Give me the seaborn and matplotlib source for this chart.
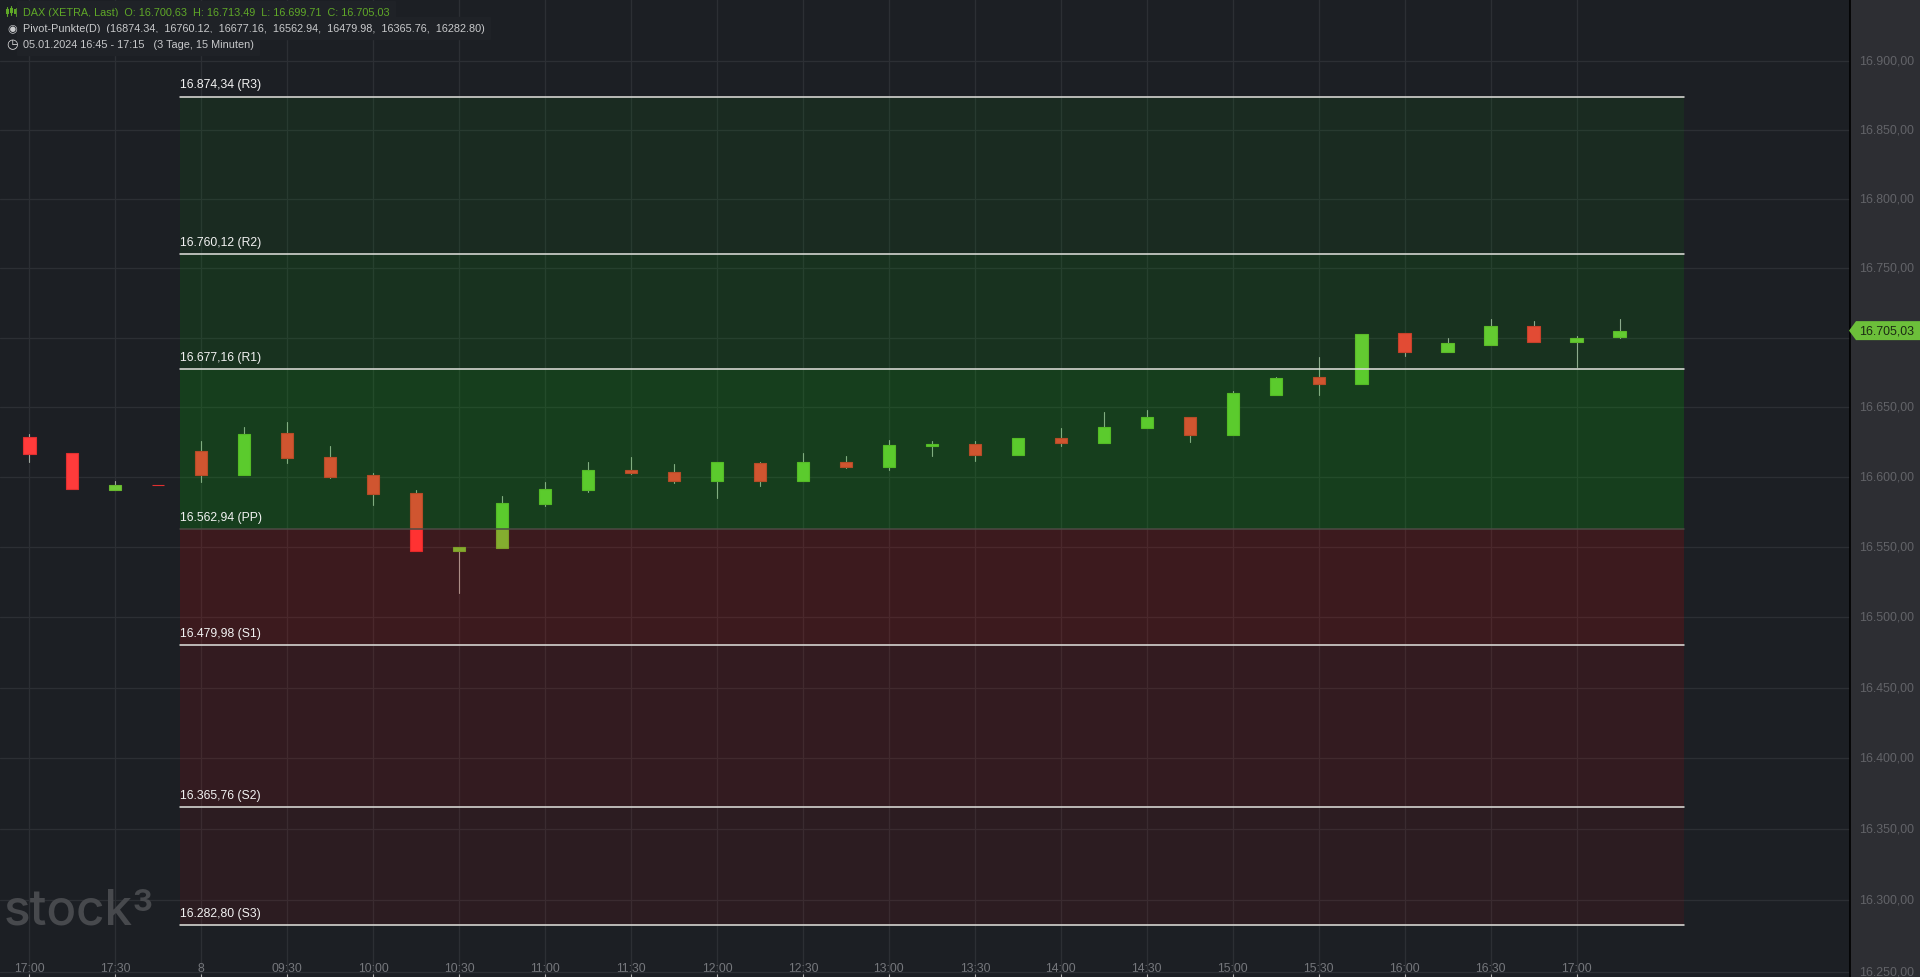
import matplotlib
matplotlib.use("Agg")
import matplotlib.pyplot as plt
from matplotlib.lines import Line2D
from matplotlib.patches import Polygon, Rectangle
from matplotlib.ticker import NullLocator
from matplotlib.transforms import ScaledTranslation
import pandas as pd
import seaborn as sns

# 15 minute bars, first four belong to the previous session
opens = [16628.6, 16617.0, 16590.7, 16594.1, 16618.6, 16601.4, 16631.5, 16614.3, 16601.4, 16588.5,
         16547.1, 16549.2, 16580.7, 16590.7, 16605.0, 16603.6, 16597.1, 16610.0, 16597.1, 16610.7,
         16607.2, 16622.2, 16623.6, 16615.7, 16627.9, 16624.3, 16635.0, 16642.8, 16630.0, 16658.6,
         16671.5, 16666.5, 16703.0, 16690.0, 16695.0, 16708.7, 16696.5, 16700.63]
closes = [16616.6, 16591.4, 16594.3, 16594.0, 16601.4, 16630.7, 16613.6, 16600.0, 16587.8, 16547.1,
          16550.0, 16581.4, 16591.4, 16605.0, 16602.9, 16597.1, 16610.7, 16597.1, 16610.7, 16607.2,
          16622.9, 16623.6, 16615.7, 16627.9, 16624.3, 16635.8, 16642.8, 16630.0, 16660.0, 16670.8,
          16666.5, 16702.3, 16690.0, 16695.8, 16708.7, 16696.5, 16700.0, 16705.03]
highs = [16630.7, 16617.0, 16597.1, 16594.1, 16625.7, 16635.8, 16639.3, 16622.2, 16602.9, 16590.7,
         16550.0, 16586.4, 16596.4, 16610.7, 16614.3, 16609.3, 16610.7, 16610.7, 16617.2, 16615.0,
         16626.5, 16625.7, 16625.7, 16627.9, 16635.0, 16646.5, 16647.9, 16642.8, 16661.5, 16671.5,
         16685.8, 16702.3, 16703.0, 16700.0, 16713.7, 16712.3, 16701.5, 16713.49]
lows = [16610.7, 16591.4, 16590.7, 16594.0, 16596.4, 16601.4, 16610.0, 16599.3, 16580.0, 16547.1,
        16517.0, 16549.2, 16579.3, 16589.3, 16602.1, 16595.7, 16585.0, 16593.6, 16597.1, 16606.4,
        16605.0, 16615.0, 16611.4, 16615.7, 16622.2, 16624.3, 16635.0, 16625.0, 16630.0, 16658.6,
        16658.6, 16666.5, 16686.5, 16690.0, 16695.0, 16696.5, 16678.6, 16699.71]

pivot_names = ["R3", "R2", "R1", "PP", "S1", "S2", "S3"]
pivot_values = [16874.34, 16760.12, 16677.16, 16562.94, 16479.98, 16365.76, 16282.80]
pivot_labels = ["16.874,34 (R3)", "16.760,12 (R2)", "16.677,16 (R1)", "16.562,94 (PP)",
                "16.479,98 (S1)", "16.365,76 (S2)", "16.282,80 (S3)"]

x_ticks = list(range(0, 38, 2))
x_labels = ["17:00", "17:30", "8", "09:30", "10:00", "10:30", "11:00", "11:30", "12:00", "12:30",
            "13:00", "13:30", "14:00", "14:30", "15:00", "15:30", "16:00", "16:30", "17:00"]
y_ticks = [16250, 16300, 16350, 16400, 16450, 16500, 16550, 16600, 16650, 16700, 16750, 16800, 16850, 16900]
# 16.700,00 sits behind the price tag in the original
y_labels = ["16.250,00", "16.300,00", "16.350,00", "16.400,00", "16.450,00", "16.500,00", "16.550,00",
            "16.600,00", "16.650,00", "", "16.750,00", "16.800,00", "16.850,00", "16.900,00"]

BG = "#1c1f24"
PANEL = "#2d2e33"
GRID = "#2c2f34"
UP = "#70cb38"
UP_EDGE = "#68b82f"
DOWN = "#ff3b3b"
DOWN_EDGE = "#e03030"
FONT = "Liberation Sans"
W, H = 1920, 978


def fx(px):
    return px / W


def fy(py):
    return 1 - py / H


def add_header(fig):
    green = "#5fa827"
    light = "#c9cacc"
    fig.text(fx(23), fy(13), "DAX (XETRA, Last)  O: 16.700,63  H: 16.713,49  L: 16.699,71  C: 16.705,03",
             color=green, fontsize=7.8, va="center", backgroundcolor="#1f2227")
    fig.text(fx(23), fy(29), "Pivot-Punkte(D)  (16874.34,  16760.12,  16677.16,  16562.94,  16479.98,  16365.76,  16282.80)",
             color=light, fontsize=7.8, va="center", backgroundcolor="#1f2227")
    fig.text(fx(23), fy(45), "05.01.2024 16:45 - 17:15   (3 Tage, 15 Minuten)",
             color=light, fontsize=7.8, va="center", backgroundcolor="#1f2227")
    # little icons in front of the three rows
    for px, top, bottom in [(7, 8, 17), (11.3, 7, 16), (15.6, 9, 17)]:
        fig.add_artist(Line2D([fx(px), fx(px)], [fy(top), fy(bottom)], color=green, lw=0.8))
        fig.add_artist(Rectangle((fx(px - 1.5), fy(bottom - 2)), fx(3), 5 / H, facecolor=green, edgecolor="none"))
    fig.text(fx(12.3), fy(29), "\u25c9", color=light, fontsize=8, ha="center", va="center", family="DejaVu Sans")
    fig.text(fx(12.3), fy(45), "\u25f7", color="#e0e0e0", fontsize=9.5, ha="center", va="center",
             family="DejaVu Sans", fontweight="bold")


def main():
    sns.set_theme(style="dark", rc={"axes.facecolor": BG, "figure.facecolor": PANEL})
    plt.rcParams["font.family"] = [FONT, "DejaVu Sans"]

    fig = plt.figure(figsize=(19.2, 9.78), dpi=100)
    ax = fig.add_axes([0, 0, 1850 / W, 1])
    ax.set_yscale("log")

    bars = pd.DataFrame({"bar": range(len(opens)), "open": opens, "close": closes, "high": highs, "low": lows})
    bars["up"] = bars["close"] >= bars["open"]

    # wicks as one short line per bar
    wicks = bars.melt(id_vars="bar", value_vars=["high", "low"], value_name="price")
    sns.lineplot(data=wicks, x="bar", y="price", units="bar", estimator=None, color="#9ea79e",
                 linewidth=0.8, ax=ax, zorder=2, legend=False)

    body_low = bars[["open", "close"]].min(axis=1)
    body_high = bars[["open", "close"]].max(axis=1)
    ax.bar(bars["bar"], body_high - body_low, bottom=body_low, width=0.29,
           color=[UP if u else DOWN for u in bars["up"]],
           edgecolor=[UP_EDGE if u else DOWN_EDGE for u in bars["up"]], linewidth=0.8, zorder=3)

    # zones lie over the candles, that is what tints them
    zones = [(0, 1, "#00cc00", 0.07), (1, 2, "#00cc00", 0.115), (2, 3, "#00cc00", 0.185),
             (3, 4, "#ff0000", 0.145), (4, 5, "#ff0000", 0.10), (5, 6, "#ff0000", 0.07)]
    for a, b, col, alpha in zones:
        ax.fill_between([3.5, 38.5], pivot_values[b], pivot_values[a], color=col, alpha=alpha, lw=0, zorder=4)

    levels = pd.DataFrame({"name": pivot_names * 2, "value": pivot_values * 2,
                           "x": [3.5] * 7 + [38.5] * 7})
    sns.lineplot(data=levels[levels["name"] != "PP"], x="x", y="value", units="name", estimator=None,
                 color="#dcdcd8", linewidth=1.15, ax=ax, zorder=5, legend=False)
    sns.lineplot(data=levels[levels["name"] == "PP"], x="x", y="value", color="#4c4b44",
                 linewidth=1.1, ax=ax, zorder=5, legend=False)

    for value, label in zip(pivot_values, pivot_labels):
        ax.annotate(label, (3.5, value), xytext=(0, 4.4), textcoords="offset points", color="#f2f2f2",
                    fontsize=8.8, va="bottom", ha="left", zorder=6)

    ax.set_xlim(-0.681, 42.36)
    ax.set_ylim(16246.3, 16945.4)
    ax.set(xlabel="", ylabel="")

    ax.yaxis.set_minor_locator(NullLocator())
    ax.yaxis.set_major_locator(matplotlib.ticker.FixedLocator(y_ticks))
    ax.yaxis.set_major_formatter(matplotlib.ticker.FixedFormatter(y_labels))
    ax.yaxis.tick_right()
    ax.set_xticks(x_ticks, x_labels)
    ax.tick_params(axis="y", which="major", right=True, length=3, width=0.8, color="#6a6b70",
                   labelcolor="#626368", labelsize=8.9, pad=3.8)
    ax.tick_params(axis="x", which="major", bottom=True, direction="in", length=2.5, width=0.8, color="#b0b0b0",
                   labelcolor="#75777c", labelsize=8.8, pad=-10.5)
    # y labels sit a little higher than the tick itself
    shift = ScaledTranslation(0, 1.5 / 72 * 1.0, fig.dpi_scale_trans)
    for lab in ax.get_yticklabels():
        lab.set_transform(lab.get_transform() + shift)
    ax.grid(True, which="major", color=GRID, linewidth=0.9, zorder=1)
    ax.set_axisbelow(True)

    sns.despine(ax=ax, left=True, top=True, bottom=True, right=False)
    ax.spines["right"].set_color("black")
    ax.spines["right"].set_linewidth(1.2)

    # price tag at the right edge, placed through the axis scale
    last = closes[-1]
    py = H - ax.transData.transform((0, last))[1]
    fig.add_artist(Polygon([(fx(1849), fy(py)), (fx(1856), fy(py - 9.5)), (fx(1920), fy(py - 9.5)),
                            (fx(1920), fy(py + 9.5)), (fx(1856), fy(py + 9.5))],
                           closed=True, facecolor="#6cbf3a", edgecolor="none", transform=fig.transFigure))
    fig.text(fx(1914), fy(py + 0.3), "16.705,03", color="#1c2a14", fontsize=8.9, ha="right", va="center")

    add_header(fig)

    # watermark
    fig.text(fx(4), fy(925), "stock", color="#47494d", fontsize=35.5, family="Inter", fontweight="medium",
             ha="left", va="baseline")
    fig.text(fx(132.5), fy(911), "3", color="#47494d", fontsize=22, family="Inter", fontweight="bold",
             ha="left", va="baseline")

    plt.savefig("out.png", dpi=100, facecolor=fig.get_facecolor())


if __name__ == "__main__":
    main()
